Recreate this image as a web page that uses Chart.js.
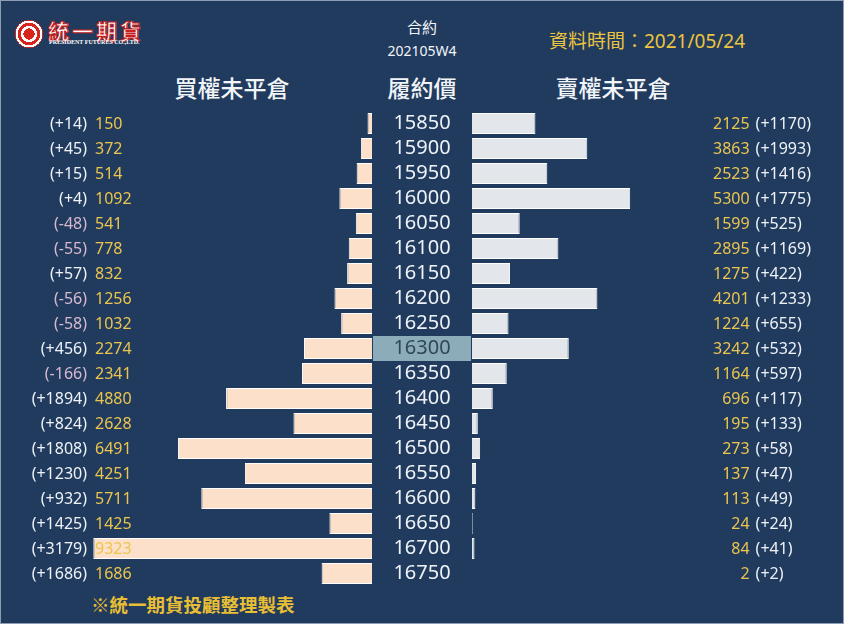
<!DOCTYPE html>
<html>
<head>
<meta charset="utf-8">
<script src="https://cdn.jsdelivr.net/npm/chart.js@4.4.1/dist/chart.umd.min.js"></script>
<style>
  body { margin: 0; background: #213b5e; }
  #frame { position: relative; width: 844px; height: 624px; background: #213b5e; overflow: hidden;
           box-shadow: inset 0 0 0 1px #8d9db2; font-family: "Noto Sans", "Noto Sans CJK TC", sans-serif; }
  .txt { position: absolute; white-space: nowrap; color: #f2f5f8; }
  canvas { position: absolute; top: 0; }
</style>
</head>
<body>
<div id="frame">
  <!-- logo -->
  <div style="position:absolute;left:15px;top:20px;width:28px;height:28px;border-radius:50%;
    background:radial-gradient(circle, #d9231d 0 28%, #fff 28% 40%, #d9231d 40% 56%, #fff 56% 68%, #d9231d 68%);"></div>
  <div class="txt" style="left:48px;top:15px;font:bold 21px 'Noto Sans CJK TC';letter-spacing:3px;color:#fff;-webkit-text-stroke:1px #c8201b;">統一期貨</div>
  <div class="txt" style="left:49px;top:39px;font:bold 6px 'Liberation Serif';color:#fff;">PRESIDENT FUTURES CO.,LTD.</div>

  <div class="txt" style="left:372px;width:100px;top:16px;text-align:center;font-size:15px;font-family:'Noto Sans CJK TC';">合約</div>
  <div class="txt" style="left:372px;width:100px;top:41px;text-align:center;font-size:14px;">202105W4</div>
  <div class="txt" style="left:549px;top:26px;font-size:19px;color:#ecc440;">資料時間：2021/05/24</div>

  <div class="txt" style="left:132px;width:200px;top:70px;text-align:center;font:500 23px 'Noto Sans CJK TC';">買權未平倉</div>
  <div class="txt" style="left:322px;width:200px;top:70px;text-align:center;font:500 23px 'Noto Sans CJK TC';">履約價</div>
  <div class="txt" style="left:513px;width:200px;top:70px;text-align:center;font:500 23px 'Noto Sans CJK TC';">賣權未平倉</div>

  <div class="txt" style="left:91px;top:591px;font:bold 18.5px 'Noto Sans CJK TC';color:#e8be34;">※統一期貨投顧整理製表</div>

  <canvas id="callChart" width="372" height="624" style="left:0"></canvas>
  <canvas id="putChart" width="472" height="624" style="left:372px"></canvas>
</div>
<script>
// 履約價
const strikes = [15850, 15900, 15950, 16000, 16050, 16100, 16150, 16200, 16250, 16300,
                 16350, 16400, 16450, 16500, 16550, 16600, 16650, 16700, 16750]
const atmStrike = 16300

// 買權未平倉 / 增減
const callOI  = [150, 372, 514, 1092, 541, 778, 832, 1256, 1032, 2274,
                 2341, 4880, 2628, 6491, 4251, 5711, 1425, 9323, 1686]
const callChg = [14, 45, 15, 4, -48, -55, 57, -56, -58, 456,
                 -166, 1894, 824, 1808, 1230, 932, 1425, 3179, 1686]

// 賣權未平倉 / 增減
const putOI  = [2125, 3863, 2523, 5300, 1599, 2895, 1275, 4201, 1224, 3242,
                1164, 696, 195, 273, 137, 113, 24, 84, 2]
const putChg = [1170, 1993, 1416, 1775, 525, 1169, 422, 1233, 655, 532,
                597, 117, 133, 58, 47, 49, 24, 41, 2]

const axisMax = 9400
const valueColor = '#ebc54e'
const posColor = '#eef2f7'
const negColor = '#d6b9cf'
const labelFont = '16px "Noto Sans"'

function fmtChg(v) {
    return v >= 0 ? "(+" + v + ")" : "(" + v + ")"
}

const callLabels = {
    id: 'callLabels',
    afterDatasetsDraw(chart) {
        const { ctx, chartArea, scales: { y } } = chart
        ctx.save()
        ctx.font = labelFont
        ctx.textBaseline = 'middle'
        strikes.forEach((s, i) => {
            const py = y.getPixelForValue(i) + 1
            ctx.textAlign = 'left'
            ctx.fillStyle = valueColor
            ctx.fillText(String(callOI[i]), chartArea.left + 4, py)
            ctx.textAlign = 'right'
            ctx.fillStyle = callChg[i] < 0 ? negColor : posColor
            ctx.fillText(fmtChg(callChg[i]), chartArea.left - 4, py)
        })
        ctx.restore()
    }
}

const putLabels = {
    id: 'putLabels',
    beforeDraw(chart) {
        // 價平框
        const { ctx, chartArea, scales: { y } } = chart
        const py = y.getPixelForValue(strikes.indexOf(atmStrike))
        const h = y.height / strikes.length
        ctx.save()
        ctx.fillStyle = '#8cacb9'
        ctx.fillRect(y.left + 1, py - h / 2, chartArea.left - y.left - 2, h)
        ctx.restore()
    },
    afterDatasetsDraw(chart) {
        const { ctx, chartArea, scales: { y } } = chart
        ctx.save()
        ctx.font = labelFont
        ctx.textBaseline = 'middle'
        strikes.forEach((s, i) => {
            const py = y.getPixelForValue(i) + 1
            ctx.textAlign = 'right'
            ctx.fillStyle = valueColor
            ctx.fillText(String(putOI[i]), chartArea.right - 3, py)
            ctx.textAlign = 'left'
            ctx.fillStyle = putChg[i] < 0 ? negColor : posColor
            ctx.fillText(fmtChg(putChg[i]), chartArea.right + 3, py)
        })
        ctx.restore()
    }
}

const strikeFont = { family: '"Noto Sans"', size: 20 }
const measure = document.createElement('canvas').getContext('2d')
measure.font = strikeFont.size + 'px ' + strikeFont.family
const strikeW = measure.measureText('16000').width

const common = {
    indexAxis: 'y',
    responsive: false,
    animation: false,
    plugins: { legend: { display: false }, tooltip: { enabled: false } }
}

new Chart(document.getElementById('callChart'), {
    type: 'bar',
    data: {
        labels: strikes,
        datasets: [{
            data: callOI,
            backgroundColor: '#fde0c9',
            borderColor: '#ffffff',
            borderWidth: 1,
            barPercentage: 0.84,
            categoryPercentage: 1
        }]
    },
    options: {
        ...common,
        layout: { padding: { left: 91, right: 0, top: 111, bottom: 38 } },
        scales: {
            x: { display: false, reverse: true, min: 0, max: axisMax },
            y: { display: false }
        }
    },
    plugins: [callLabels]
})

new Chart(document.getElementById('putChart'), {
    type: 'bar',
    data: {
        labels: strikes,
        datasets: [{
            data: putOI,
            backgroundColor: '#e3e7ec',
            borderColor: '#ffffff',
            borderWidth: 1,
            barPercentage: 0.84,
            categoryPercentage: 1
        }]
    },
    options: {
        ...common,
        layout: { padding: { left: 0, right: 472 - 100 - 280.6, top: 111, bottom: 38 } },
        scales: {
            x: { display: false, min: 0, max: axisMax },
            y: {
                grid: { display: false, drawTicks: false },
                border: { display: false },
                afterFit: s => { s.width = 100 },
                ticks: {
                    autoSkip: false,
                    crossAlign: 'center',
                    padding: 50 - strikeW / 2,
                    font: strikeFont,
                    color: c => strikes[c.index] === atmStrike ? '#2f4757' : '#eef2f7'
                }
            }
        }
    },
    plugins: [putLabels]
})
</script>
</body>
</html>
